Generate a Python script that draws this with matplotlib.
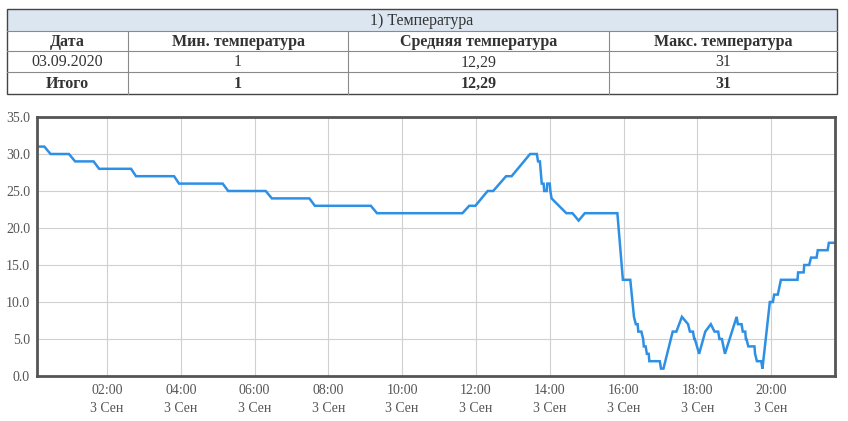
import matplotlib
matplotlib.use("Agg")
import matplotlib.pyplot as plt
import matplotlib.dates as mdates
from matplotlib.patches import Rectangle
from matplotlib.ticker import FuncFormatter, MultipleLocator
import datetime as dt

plt.rcParams['font.family'] = ['Liberation Serif', 'DejaVu Serif']

# ---- table data ----
table_title = "1) Температура"
table_header = ["Дата", "Мин. температура", "Средняя температура", "Макс. температура"]
table_row = ["03.09.2020", "1", "12,29", "31"]
table_total = ["Итого", "1", "12,29", "31"]

# ---- chart data ----
day = "2020-09-03"
times = ["00:06", "00:18", "00:28", "00:58", "01:08", "01:38", "01:47", "02:39", "02:47",
         "03:49", "03:57", "05:08", "05:17", "06:18", "06:28", "07:29", "07:38", "09:09",
         "09:19", "11:38", "11:49", "11:59", "12:19", "12:28", "12:49", "12:58", "13:28",
         "13:39", "13:41", "13:44", "13:47", "13:50", "13:51", "13:55", "13:56", "14:00",
         "14:01", "14:03", "14:27", "14:37", "14:47", "14:57", "15:50", "15:59", "16:11",
         "16:17", "16:20", "16:23", "16:24", "16:29", "16:32", "16:33", "16:36", "16:38",
         "16:41", "16:42", "16:59", "17:01", "17:05", "17:20", "17:26", "17:35", "17:45",
         "17:48", "17:53", "17:55", "17:56", "18:03", "18:13", "18:22", "18:28", "18:34",
         "18:36", "18:40", "18:45", "19:04", "19:06", "19:12", "19:14", "19:18", "19:19",
         "19:20", "19:23", "19:33", "19:34", "19:37", "19:44", "19:46", "19:58", "20:03",
         "20:05", "20:11", "20:16", "20:43", "20:44", "20:53", "20:54", "21:02", "21:05",
         "21:14", "21:16", "21:32", "21:34", "21:44"]
temps = [31, 31, 30, 30, 29, 29, 28, 28, 27,
         27, 26, 26, 25, 25, 24, 24, 23, 23,
         22, 22, 23, 23, 25, 25, 27, 27, 30,
         30, 29, 29, 26, 26, 25, 25, 26, 26,
         25, 24, 22, 22, 21, 22, 22, 13, 13,
         8, 7, 7, 6, 6, 5, 4, 4, 3,
         3, 2, 2, 1, 1, 6, 6, 8, 7,
         6, 6, 5, 5, 3, 6, 7, 6, 6,
         5, 5, 3, 8, 7, 7, 6, 6, 5,
         5, 4, 4, 3, 2, 2, 1, 10, 10,
         11, 11, 13, 13, 14, 14, 15, 15, 16,
         16, 17, 17, 18, 18]
ru_months = ["Янв", "Фев", "Мар", "Апр", "Май", "Июн", "Июл", "Авг", "Сен", "Окт", "Ноя", "Дек"]

x = [dt.datetime.strptime(day + " " + t, "%Y-%m-%d %H:%M") for t in times]

W, H = 848, 421
fig = plt.figure(figsize=(W / 100, H / 100), dpi=100)

# ---- table (pixel overlay) ----
tax = fig.add_axes([0, 0, 1, 1])
tax.set_xlim(0, W)
tax.set_ylim(H, 0)
tax.axis("off")
col_edges = [7, 128, 348, 609, 837]
row_edges = [9, 31, 51, 72, 94]
text_color = "#333333"
tax.add_patch(Rectangle((col_edges[0], row_edges[0]), col_edges[-1] - col_edges[0],
                        row_edges[1] - row_edges[0], facecolor="#dce6f1", edgecolor="none"))
for yy in row_edges[1:-1]:
    tax.plot([col_edges[0], col_edges[-1]], [yy, yy], color="#8a8a8a", lw=0.8)
for xx in col_edges[1:-1]:
    tax.plot([xx, xx], [row_edges[1], row_edges[-1]], color="#8a8a8a", lw=0.8)
tax.add_patch(Rectangle((col_edges[0], row_edges[0]), col_edges[-1] - col_edges[0],
                        row_edges[-1] - row_edges[0], facecolor="none", edgecolor="#444444", lw=1.0))
tax.text((col_edges[0] + col_edges[-1]) / 2, (row_edges[0] + row_edges[1]) / 2 + 1, table_title,
         ha="center", va="center", fontsize=11.5, color=text_color)
rows = [(table_header, "bold"), (table_row, "normal"), (table_total, "bold")]
for r, (vals, weight) in enumerate(rows):
    yc = (row_edges[r + 1] + row_edges[r + 2]) / 2 + 1
    for c, v in enumerate(vals):
        xc = (col_edges[c] + col_edges[c + 1]) / 2
        tax.text(xc, yc, v, ha="center", va="center", fontsize=11.5, color=text_color,
                 fontweight=weight)

# ---- chart ----
left, right, top, bottom = 37, 835, 117, 376
ax = fig.add_axes([left / W, 1 - bottom / H, (right - left) / W, (bottom - top) / H])
ax.plot(x, temps, color="#2e90e5", lw=1.8, solid_joinstyle="miter")
ax.set_xlim(x[0], x[-1])
ax.set_ylim(0, 35)
ax.yaxis.set_major_locator(MultipleLocator(5))
ax.yaxis.set_major_formatter(FuncFormatter(lambda v, p: f"{v:.1f}"))
ax.xaxis.set_major_locator(mdates.HourLocator(byhour=range(0, 24, 2)))


def fmt_x(v, p):
    d = mdates.num2date(v)
    return f"{d:%H:%M}\n{d.day} {ru_months[d.month - 1]}"


ax.xaxis.set_major_formatter(FuncFormatter(fmt_x))
ax.grid(True, color="#d0d0d0", lw=0.8)
ax.set_axisbelow(True)
for s in ax.spines.values():
    s.set_color("#555555")
    s.set_linewidth(2.0)
ax.tick_params(axis="both", length=0, labelsize=10, labelcolor="#555555")
ax.tick_params(axis="y", pad=5)
ax.tick_params(axis="x", pad=6)
for lbl in ax.get_xticklabels():
    lbl.set_linespacing(1.45)

fig.savefig("out.png", dpi=100)
